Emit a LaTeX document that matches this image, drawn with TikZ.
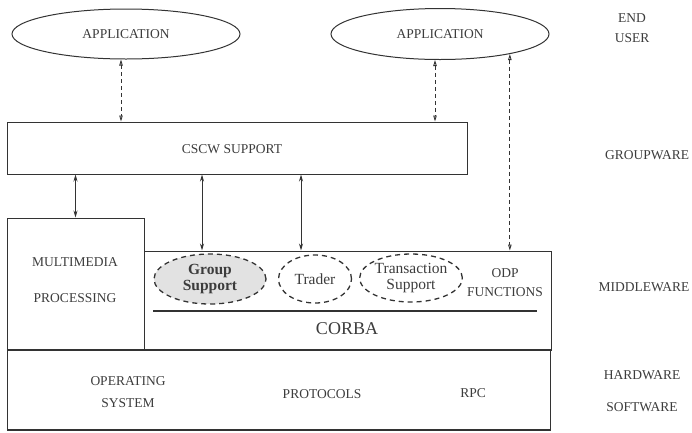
\documentclass[tikz,border=0pt]{standalone}
\usepackage{fontspec}
\setmainfont{Liberation Serif}
\usetikzlibrary{arrows.meta,shapes.geometric}
\definecolor{ink}{HTML}{333333}
\definecolor{txt}{HTML}{3C3C3C}
\definecolor{shade}{HTML}{E2E2E2}
\begin{document}
\begin{tikzpicture}[x=1pt,y=-1pt,
  every node/.style={text=txt,font=\fontsize{13.5}{15}\selectfont},
  layerbox/.style={draw=ink,line width=1pt,rectangle,inner sep=0pt},
  app/.style={draw=ink,line width=1pt,ellipse,inner sep=0pt},
  service/.style={draw=ink,line width=1.3pt,dash pattern=on 5pt off 4pt,ellipse,inner sep=0pt,
    align=center,font=\fontsize{15.5}{15.5}\selectfont},
  link/.style={draw=ink,line width=0.9pt,{Stealth[length=7pt,width=4pt]}-{Stealth[length=7pt,width=4pt]}},
  dlink/.style={draw=ink,line width=0.9pt,dash pattern=on 4pt off 3pt,
    {Triangle[open,length=6pt,width=3.5pt]}-{Triangle[open,length=6pt,width=3.5pt]}},
  tag/.style={anchor=center}]
\useasboundingbox (0,0) rectangle (692,432);

% top level applications
\node[app,minimum width=228pt,minimum height=50pt] (app1) at (126,34) {APPLICATION};
\node[app,minimum width=218pt,minimum height=51pt] (app2) at (440,34) {APPLICATION};

% groupware layer
\node[layerbox,minimum width=460pt,minimum height=52pt] (cscw) at (237,148) {};
\node (cscwtxt) at (232,149) {CSCW SUPPORT};

% multimedia column
\node[layerbox,minimum width=137pt,minimum height=132pt] (mm) at (75.5,284) {};
\node (mm1) at (75,262) {MULTIMEDIA};
\node (mm2) at (75,298) {PROCESSING};

% middleware block
\node[layerbox,minimum width=407pt,minimum height=99pt] (mw) at (347.5,300.5) {};
\node[service,fill=shade,minimum width=112pt,minimum height=50pt,font=\bfseries\fontsize{15.5}{15.5}\selectfont] (gs) at (210,279) {Group\\Support};
\node[service,minimum width=73pt,minimum height=48pt] (tr) at (315,279) {Trader};
\node[service,minimum width=93pt,minimum height=48pt] (ts) at (411,278) {Transaction\\Support};
\node (odp1) at (505,273) {ODP};
\node (odp2) at (505,292) {FUNCTIONS};
\coordinate (orbl) at (153,311);
\coordinate (orbr) at (537,311);
\draw[ink,line width=1.2pt] (orbl) -- (orbr);
\node[font=\fontsize{18}{18}\selectfont] (corba) at (347,329) {CORBA};

% hardware / software base
\node[layerbox,line width=1.6pt,minimum width=543pt,minimum height=80pt] (hw) at (279,390) {};
\node (os1) at (128,381) {OPERATING};
\node (os2) at (128,403) {SYSTEM};
\node (proto) at (322,394) {PROTOCOLS};
\node (rpc) at (473,393) {RPC};

% layer names
\node[tag] (eu1) at (632,18) {END};
\node[tag] (eu2) at (632,38) {USER};
\node[tag] (gw) at (647,155) {GROUPWARE};
\node[tag] (mwl) at (644,287) {MIDDLEWARE};
\node[tag] (hw1) at (642,375) {HARDWARE};
\node[tag] (hw2) at (642,407) {SOFTWARE};

% application links
\draw[dlink] ([xshift=-5pt]app1.south) -- ([xshift=-5pt]app1.south |- cscw.north);
\draw[dlink] ([xshift=-5pt]app2.south) -- ([xshift=-5pt]app2.south |- cscw.north);
\draw[dlink] (app2.-16) -- (app2.-16 |- mw.north);

% groupware to middleware links
\draw[link] (mm.north |- cscw.south) -- (mm.north);
\draw[link] ([xshift=-8pt]gs.north |- cscw.south) -- ([xshift=-8pt]gs.north |- mw.north);
\draw[link] ([xshift=-14pt]tr.north |- cscw.south) -- ([xshift=-14pt]tr.north |- mw.north);
\end{tikzpicture}
\end{document}
